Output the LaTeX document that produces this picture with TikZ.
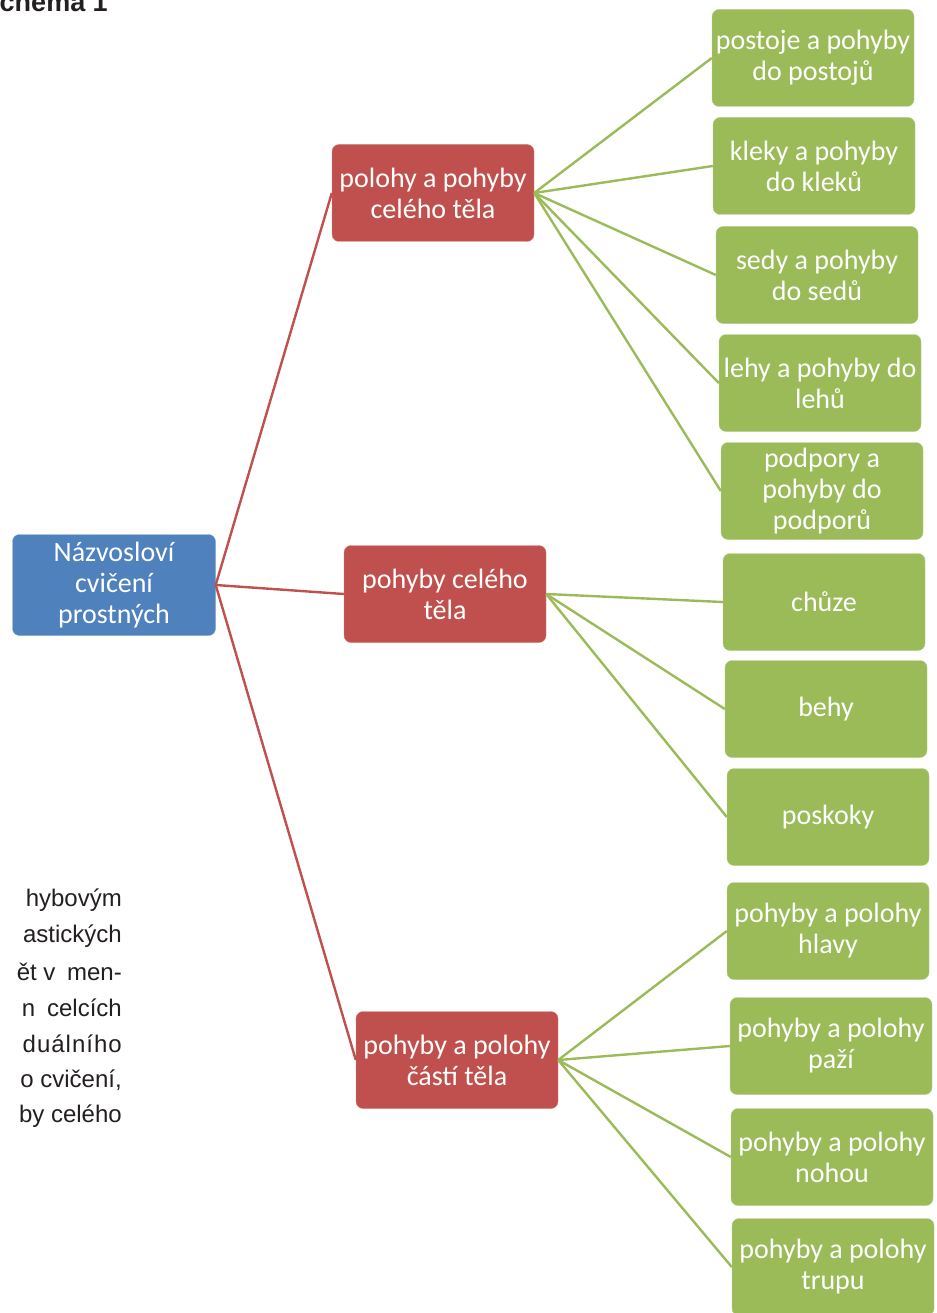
\documentclass[tikz,border=0pt]{standalone}
\usepackage{fontspec}
\setmainfont{Liberation Sans}
\newfontfamily\boxfont{Carlito}
\usetikzlibrary{positioning}
\definecolor{rootblue}{HTML}{4F81BD}
\definecolor{catred}{HTML}{C0504D}
\definecolor{leafgreen}{HTML}{9BBB59}
\definecolor{bodytext}{HTML}{231F20}

\begin{document}
\begin{tikzpicture}[x=1pt, y=-1pt,
    rootbox/.style={rectangle, rounded corners=7pt, fill=rootblue, draw=rootblue!70!white, text=white, align=center, font=\boxfont\fontsize{28}{31}\selectfont, minimum width=203pt, minimum height=101pt, inner sep=0pt},
    catbox/.style={rectangle, rounded corners=7pt, fill=catred, draw=catred!70!white, text=white, align=center, font=\boxfont\fontsize{28}{31}\selectfont, minimum width=202pt, minimum height=97pt, inner sep=0pt},
    leafbox/.style={rectangle, rounded corners=7pt, fill=leafgreen, draw=leafgreen!70!white, text=white, align=center, font=\boxfont\fontsize{28}{31}\selectfont, minimum width=202pt, minimum height=97pt, inner sep=0pt},
    redline/.style={draw=catred, line width=2.4pt},
    greenline/.style={draw=leafgreen, line width=2.4pt},
    bodyline/.style={anchor=east, inner sep=0pt, text=bodytext, font=\fontsize{24}{30}\selectfont}]

    \useasboundingbox (0,0) rectangle (936,1313);
    \clip (0,0) rectangle (936,1313);

    % cut off text of the page
    \node[anchor=base east, inner sep=0pt, text=bodytext, font=\bfseries\fontsize{27}{30}\selectfont] (title) at (108, 12) {chema 1};
    \node[bodyline] (p1) at (122, 900) {hybovým};
    \node[bodyline] (p2) at (122, 936) {astických};
    \node[bodyline] (p3) at (122, 972) {ět v\hspace{5pt} men-};
    \node[bodyline] (p4) at (122, 1008) {n\hspace{12pt}celcích};
    \node[bodyline] (p5) at (122, 1044) {d\hspace{1pt}u\hspace{1pt}á\hspace{1pt}l\hspace{1pt}n\hspace{1pt}í\hspace{1pt}h\hspace{1pt}o};
    \node[bodyline] (p6) at (122, 1080) {o cvičení,};
    \node[bodyline] (p7) at (122, 1116) {by celého};

    % boxes
    \node[rootbox] (root) at (114, 585) {Názvosloví\\cvičení\\prostných};

    \node[catbox] (whole) at (433, 193) {polohy a pohyby\\celého těla};
    \node[catbox] (moves) at (445, 594) {pohyby celého\\těla};
    \node[catbox] (parts) at (457, 1060) {pohyby a polohy\\částí těla};

    \node[leafbox] (stand) at (813, 58) {postoje a pohyby\\do postojů};
    \node[leafbox] (kneel) at (814, 166) {kleky a pohyby\\do kleků};
    \node[leafbox] (sit) at (817, 275) {sedy a pohyby\\do sedů};
    \node[leafbox] (lie) at (820, 383) {lehy a pohyby do\\lehů};
    \node[leafbox] (support) at (822, 491) {podpory a\\pohyby do\\podporů};
    \node[leafbox] (walk) at (824, 602) {chůze};
    \node[leafbox] (run) at (826, 709) {behy};
    \node[leafbox] (hop) at (828, 817) {poskoky};
    \node[leafbox] (head) at (828, 931) {pohyby a polohy\\hlavy};
    \node[leafbox] (arms) at (831, 1046) {pohyby a polohy\\paží};
    \node[leafbox] (legs) at (832, 1157) {pohyby a polohy\\nohou};
    \node[leafbox] (trunk) at (833, 1267) {pohyby a polohy\\trupu};

    % connectors
    \draw[redline] (root.east) -- (whole.west);
    \draw[redline] (root.east) -- (moves.west);
    \draw[redline] (root.east) -- (parts.west);

    \draw[greenline] (whole.east) -- (stand.west);
    \draw[greenline] (whole.east) -- (kneel.west);
    \draw[greenline] (whole.east) -- (sit.west);
    \draw[greenline] (whole.east) -- (lie.west);
    \draw[greenline] (whole.east) -- (support.west);

    \draw[greenline] (moves.east) -- (walk.west);
    \draw[greenline] (moves.east) -- (run.west);
    \draw[greenline] (moves.east) -- (hop.west);

    \draw[greenline] (parts.east) -- (head.west);
    \draw[greenline] (parts.east) -- (arms.west);
    \draw[greenline] (parts.east) -- (legs.west);
    \draw[greenline] (parts.east) -- (trunk.west);
\end{tikzpicture}
\end{document}
